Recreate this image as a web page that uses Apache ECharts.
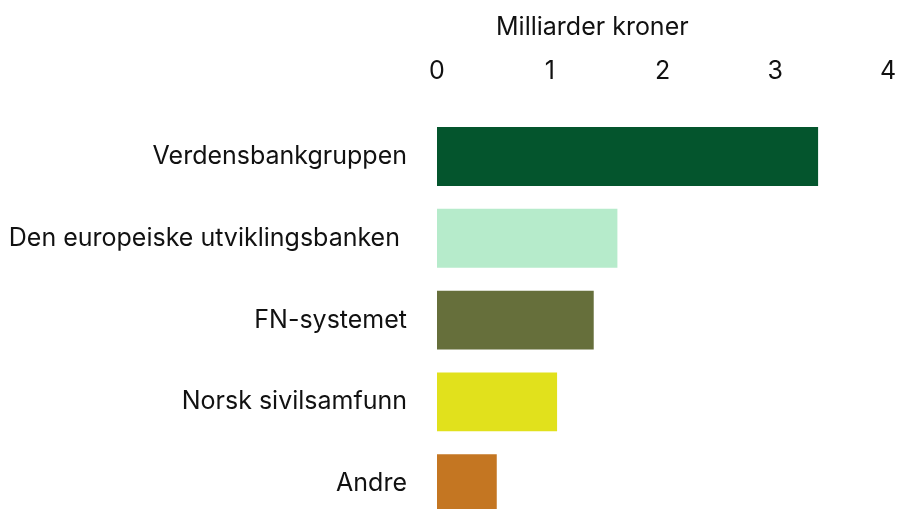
<!DOCTYPE html>
<html>
<head>
<meta charset="utf-8">
<script src="https://cdn.jsdelivr.net/npm/echarts@6/dist/echarts.min.js"></script>
<style>
  html, body { margin: 0; padding: 0; background: #fff; }
  #chart { width: 897px; height: 509px; }
</style>
</head>
<body>
<div id="chart"></div>
<script>
const categories = ['Verdensbankgruppen', 'Den europeiske utviklingsbanken ', 'FN-systemet', 'Norsk sivilsamfunn', 'Andre']
const values = [3.38, 1.6, 1.39, 1.065, 0.53]
const colors = ['#04552d', '#b6ebcb', '#666f3b', '#e1e11c', '#c47622']
const unitLabel = 'Milliarder kroner'

const chart = echarts.init(document.getElementById('chart'))
const font = 'Inter, "Liberation Sans", sans-serif'

chart.setOption({
  backgroundColor: '#fff',
  animation: false,
  title: {
    text: unitLabel,
    left: 491,
    top: 10,
    textStyle: { fontFamily: font, fontSize: 25, fontWeight: 'normal', color: '#111' }
  },
  grid: {
    left: 437,
    right: 9,
    top: 115.6,
    height: 409,
    outerBoundsMode: 'none', // let the last bar run off the bottom edge
    containLabel: false
  },
  xAxis: {
    type: 'value',
    position: 'top',
    min: 0,
    max: 4,
    interval: 1,
    axisLine: { show: false },
    axisTick: { show: false },
    splitLine: { show: false },
    axisLabel: {
      margin: 32,
      fontFamily: font,
      fontSize: 25,
      color: '#111'
    }
  },
  yAxis: {
    type: 'category',
    inverse: true,
    data: categories,
    axisLine: { show: false },
    axisTick: { show: false },
    axisLabel: {
      margin: 30,
      fontFamily: font,
      fontSize: 25,
      color: '#111'
    }
  },
  series: [{
    type: 'bar',
    barWidth: '72%',
    data: values.map((v, i) => ({ value: v, itemStyle: { color: colors[i] } }))
  }]
})
</script>
</body>
</html>
